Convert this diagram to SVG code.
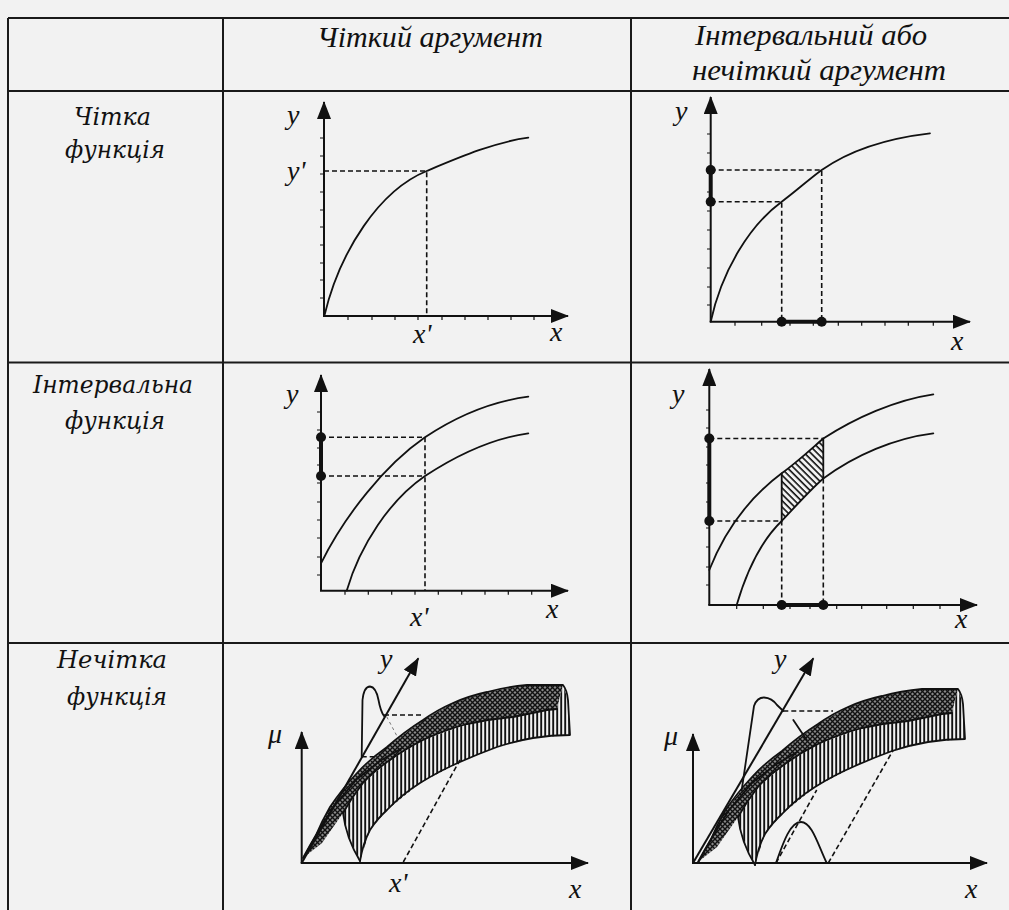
<svg xmlns="http://www.w3.org/2000/svg" width="1009" height="910" viewBox="0 0 1009 910">
<style>
.ax{stroke:#111;stroke-width:2;fill:none}
.cv{stroke:#111;stroke-width:1.8;fill:none;stroke-linejoin:round;stroke-linecap:round}
.ds{stroke:#111;stroke-width:1.6;fill:none;stroke-dasharray:5 3}
.tk{stroke:#111;stroke-width:1.2;fill:none}
.th{stroke:#111;stroke-width:4;fill:none}
.grid{stroke:#1a1a1a;stroke-width:2;fill:none}
.dot{fill:#111}
.lab{font-family:"Liberation Serif","DejaVu Serif",serif;font-style:italic;font-size:28px;fill:#111}
.hd{font-family:"Liberation Serif","DejaVu Serif",serif;font-style:italic;font-size:29px;fill:#111}
.rl{font-family:"DejaVu Serif","Liberation Serif",serif;font-style:italic;font-size:25px;fill:#111}
</style>
<defs>
<marker id="ah" viewBox="0 0 18 14" refX="17" refY="7" markerWidth="18" markerHeight="14" markerUnits="userSpaceOnUse" orient="auto"><path d="M0,0 L18,7 L0,14 Z" fill="#111"/></marker>
<pattern id="vh" width="4" height="10" patternUnits="userSpaceOnUse"><rect width="4" height="10" fill="#f2f2f2"/><line x1="1.2" y1="0" x2="1.2" y2="10" stroke="#111" stroke-width="1.9"/></pattern>
<pattern id="xh" width="5" height="5" patternUnits="userSpaceOnUse"><rect width="5" height="5" fill="#8a8a8a"/><path d="M0,0 L5,5 M5,0 L0,5" stroke="#111" stroke-width="1.4"/></pattern>
<pattern id="dh" width="4.5" height="10" patternUnits="userSpaceOnUse" patternTransform="rotate(-45)"><line x1="1" y1="0" x2="1" y2="10" stroke="#111" stroke-width="1.6"/></pattern>
<g id="band">
<path d="M303,858 L316,835 L330,807 L357,773 L387,747 L423,720 L453,703 L487,692 L527,685 L563,685 L557,709 L547,710 L513,717 L467,724 L423,740 L390,760 L363,783 L343,813 L322,843 Z" fill="url(#xh)"/>
<path d="M360,861 L352,845 L345,826 L343,813 L363,783 L390,760 L423,740 L467,724 L513,717 L547,710 L557,709 L563,685 L568,700 L570,735 L533,738 L497,747 L460,762 L420,783 L387,810 L370,830 Z" fill="url(#vh)"/>
<path d="M303,858 Q310,845 316,835 Q322,821 330,807 Q342,789 357,773 Q370,759 387,747 Q404,732 423,720 Q437,710 453,703 Q469,696 487,692 Q506,687 527,685 L563,685 Q567,690 568,700 L570,735 Q551,735 533,738 Q515,741 497,747 Q478,754 460,762 Q439,771 420,783 Q401,795 387,810 Q377,819 370,830 Q363,843 360,861" class="cv" stroke-width="2.2"/>
<path d="M343,813 Q352,797 363,783 Q375,770 390,760 Q405,749 423,740 Q444,730 467,724 Q490,719 513,717 L547,710 L557,709" class="cv" stroke-width="1.5"/>
<path d="M360,861 Q346,838 343,813" class="cv" stroke-width="1.5"/>
<path d="M304,857 L318,832 L334,806 L357,779 L380,761 L402,748" class="cv" stroke-width="7"/>
</g>
</defs>
<rect width="1009" height="910" fill="#f2f2f2"/>

<g id="grid" class="grid">
<path d="M8,18 H1009 M8,91 H1009 M8,362.5 H1009 M8,643 H1009"/>
<path d="M8,18 V910 M223,18 V910 M631,18 V910"/>
</g>

<g id="headers">
<text class="hd" x="317" y="47" textLength="226" lengthAdjust="spacingAndGlyphs">Чіткий аргумент</text>
<text class="hd" x="695" y="45" textLength="232" lengthAdjust="spacingAndGlyphs">Інтервальний або</text>
<text class="hd" x="692" y="80" textLength="254" lengthAdjust="spacingAndGlyphs">нечіткий аргумент</text>
</g>

<g id="row-labels">
<text class="rl" x="74" y="125" textLength="77" lengthAdjust="spacingAndGlyphs">Чітка</text>
<text class="rl" x="65" y="158" textLength="100" lengthAdjust="spacingAndGlyphs">функція</text>
<text class="rl" x="33" y="393" textLength="160" lengthAdjust="spacingAndGlyphs">Інтервальна</text>
<text class="rl" x="65" y="429" textLength="100" lengthAdjust="spacingAndGlyphs">функція</text>
<text class="rl" x="57" y="668" textLength="110" lengthAdjust="spacingAndGlyphs">Нечітка</text>
<text class="rl" x="67" y="705" textLength="100" lengthAdjust="spacingAndGlyphs">функція</text>
</g>

<g id="cell-crisp-crisp">
<path class="ax" d="M324,316 V102" marker-end="url(#ah)"/>
<path class="ax" d="M323,316 H568" marker-end="url(#ah)"/>
<path class="tk" d="M320,298h4M320,280h4M320,263h4M320,245h4M320,227h4M320,210h4M320,192h4M320,174h4M320,156h4M320,138h4"/>
<path class="tk" d="M348,316v4M372,316v4M395,316v4M418,316v4M442,316v4M465,316v4M488,316v4M511,316v4M534,316v4"/>
<path class="cv" d="M324.3,316 C340,250 380,190 426.7,171 C460,157 495,142 528.3,137.7"/>
<path class="ds" d="M324,171 H426.7 V316"/>
<text class="lab" x="287" y="124">y</text>
<text class="lab" x="287" y="180">y'</text>
<text class="lab" x="413" y="343">x'</text>
<text class="lab" x="550" y="341">x</text>
</g>

<g id="cell-interval-crisp">
<path class="ax" d="M710.7,321.7 V97" marker-end="url(#ah)"/>
<path class="ax" d="M709.7,321.7 H970" marker-end="url(#ah)"/>
<path class="tk" d="M707,305h4M707,287h4M707,268h4M707,249h4M707,230h4M707,211h4M707,192h4M707,173h4M707,153h4M707,134h4"/>
<path class="tk" d="M735,321.7v4M761.7,321.7v4M790,321.7v4M813.3,321.7v4M838.3,321.7v4M861.7,321.7v4M885,321.7v4M908.3,321.7v4M933.3,321.7v4"/>
<path class="cv" d="M710.7,321.7 C722,270 750,225 781.7,201.7 C795,192 808,180 821.7,170 C850,150 890,138 930,133.3"/>
<path class="ds" d="M710.7,170 H821.7 V321.7 M710.7,201.7 H781.7 V321.7"/>
<path class="th" d="M710.7,170 V201.7 M781.7,321.7 H821.7"/>
<circle class="dot" cx="710.7" cy="170" r="5"/>
<circle class="dot" cx="710.7" cy="201.7" r="5"/>
<circle class="dot" cx="781.7" cy="321.7" r="5"/>
<circle class="dot" cx="821.7" cy="321.7" r="5"/>
<text class="lab" x="675" y="120">y</text>
<text class="lab" x="951" y="350">x</text>
</g>

<g id="cell-crisp-interval">
<path class="ax" d="M321,590.7 V375" marker-end="url(#ah)"/>
<path class="ax" d="M320,590.7 H568" marker-end="url(#ah)"/>
<path class="tk" d="M317,575h4M317,557h4M317,538h4M317,520h4M317,502h4M317,483h4M317,465h4M317,448h4M317,430h4M317,412h4"/>
<path class="tk" d="M345,590.7v4M368.3,590.7v4M391.7,590.7v4M415,590.7v4M438.3,590.7v4M461.7,590.7v4M485,590.7v4M508.3,590.7v4M531.7,590.7v4"/>
<path class="cv" d="M321,563.3 C345,515 385,465 425,437.3 C460,414 495,401 528.3,396.7"/>
<path class="cv" d="M346.7,590.7 C360,545 390,500 425,476 C460,453 495,438 528.3,433.3"/>
<path class="ds" d="M321,437.3 H425 V590.7 M321,476 H425"/>
<path class="th" d="M321,437.3 V476"/>
<circle class="dot" cx="321" cy="437.3" r="5"/>
<circle class="dot" cx="321" cy="476" r="5"/>
<text class="lab" x="286" y="403">y</text>
<text class="lab" x="410" y="626">x'</text>
<text class="lab" x="546" y="618">x</text>
</g>

<g id="cell-interval-interval">
<path class="ax" d="M709.3,605 V369" marker-end="url(#ah)"/>
<path class="ax" d="M708.3,605 H977" marker-end="url(#ah)"/>
<path class="tk" d="M706,585h4M706,567h4M706,547h4M706,528h4M706,502h4M706,483h4M706,465h4M706,447h4M706,428h4M706,410h4"/>
<path class="tk" d="M736.7,605v4M763.3,605v4M790,605v4M810,605v4M836.7,605v4M861.7,605v4M886.7,605v4M913.3,605v4M940,605v4"/>
<path d="M781.7,473.3 C796,463 810,450 823.3,438.5 L823.3,478.5 C809,491 795,507 781.7,521 Z" fill="url(#dh)"/>
<path class="cv" d="M781.7,521 V473.3 M823.3,438.5 V478.5" stroke-width="1.6"/>
<path class="cv" d="M709.3,570 C725,530 750,497 781.7,473.3 C796,463 810,450 823.3,438.5 C855,418 895,400 933.3,394.3"/>
<path class="cv" d="M736.7,605 C747,570 762,540 781.7,521 C795,507 809,491 823.3,478.5 C855,455 895,438 933.3,433.3"/>
<path class="ds" d="M709.3,438.5 H823.3 M823.3,478.5 V605 M709.3,521 H781.7 V605"/>
<path class="th" d="M709.3,438.5 V521 M781.7,605 H823.3"/>
<circle class="dot" cx="709.3" cy="438.5" r="5"/>
<circle class="dot" cx="709.3" cy="521" r="5"/>
<circle class="dot" cx="781.7" cy="605" r="5"/>
<circle class="dot" cx="823.3" cy="605" r="5"/>
<text class="lab" x="672" y="403">y</text>
<text class="lab" x="955" y="628">x</text>
</g>

<g id="cell-crisp-fuzzy">
<use href="#band"/>
<path class="ax" d="M301.7,863 V732" marker-end="url(#ah)"/>
<path class="ax" d="M300.7,863 H588" marker-end="url(#ah)"/>
<path class="ax" d="M301.7,863 L418.3,658.3" marker-end="url(#ah)"/>
<path class="cv" stroke-width="1.6" d="M361.7,756.7 L362.5,700 Q364,686.5 370,686.5 Q376,687 378.5,700 Q380.5,711 384,716"/>
<path class="ds" d="M361.7,756.7 H376 M384,715 H423"/>
<path class="ds" d="M403.3,862 L460,760"/>
<path d="M386.7,716.7 L398,738" stroke="#777" stroke-width="1" stroke-dasharray="3 3" fill="none"/>
<text class="lab" x="268" y="743">μ</text>
<text class="lab" x="380" y="668">y</text>
<text class="lab" x="389" y="892">x'</text>
<text class="lab" x="569" y="898">x</text>
</g>

<g id="cell-interval-fuzzy">
<use href="#band" transform="translate(395,4)"/>
<path class="ax" d="M693,863 V734" marker-end="url(#ah)"/>
<path class="ax" d="M692,863 H987" marker-end="url(#ah)"/>
<path class="ax" d="M693,863 L813.3,658.3" marker-end="url(#ah)"/>
<path class="cv" stroke-width="1.6" d="M741.7,790 L754,706 Q757,697.5 764,697.5 Q772,698 777,705 L783.3,711"/>
<path class="ds" d="M783.3,711 H833"/>
<path class="cv" stroke-width="1.4" d="M793.3,720 L806.7,740"/>
<path class="cv" stroke-width="1.8" d="M776,863 C783,843 790,822 801,822 C812,822 818,845 826.7,863"/>
<path class="ds" d="M776,863 L816.7,790 M828.3,863 L893.3,750"/>
<text class="lab" x="664" y="745">μ</text>
<text class="lab" x="774" y="668">y</text>
<text class="lab" x="965" y="898">x</text>
</g>
</svg>
